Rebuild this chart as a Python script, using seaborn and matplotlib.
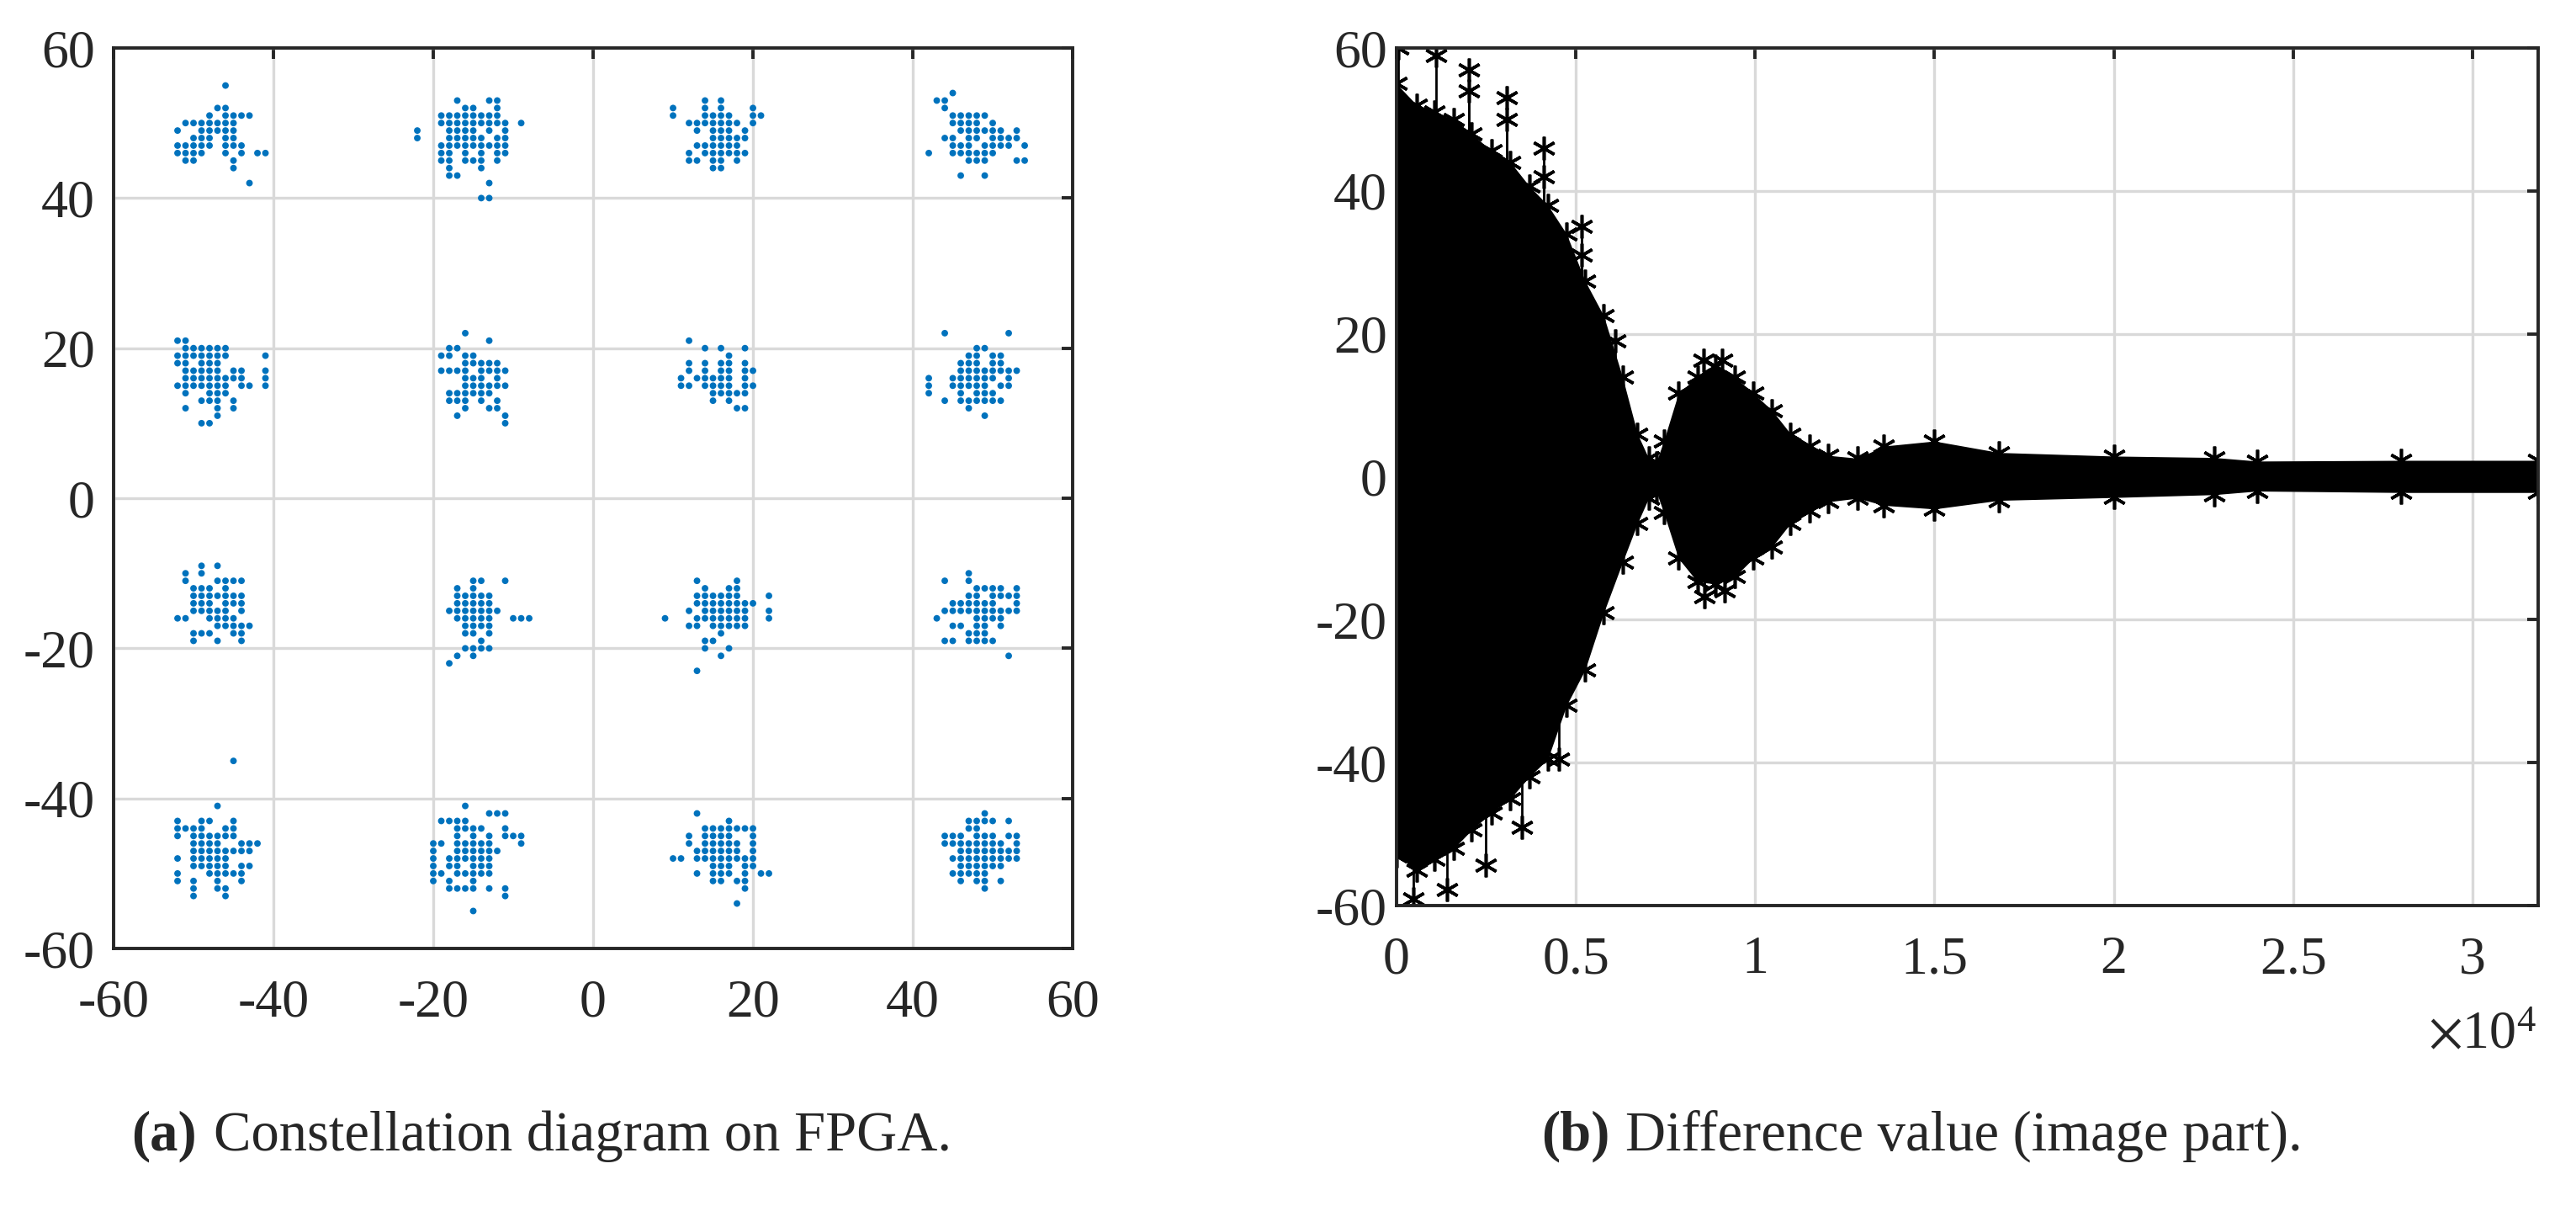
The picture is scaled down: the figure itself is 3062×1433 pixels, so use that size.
import numpy as np
import pandas as pd
import seaborn as sns
import matplotlib.pyplot as plt

# constellation points, one entry per row of dots: (y, [x values])
row_top = [
    (55, [-46]), (52, [-47, -46]), (51, [-48, -46, -45, -44, -43]),
    (50, [-51, -50, -49, -48, -47, -46, -45]), (49, [-52, -49, -48, -47, -46, -45]),
    (48, [-50, -49, -48, -46, -45]), (47, [-52, -51, -50, -49, -48, -46, -45, -44]),
    (46, [-52, -51, -50, -49, -46, -44, -42, -41]), (45, [-51, -50, -45]), (44, [-45]), (42, [-43]),
    (53, [-17, -13, -12]), (52, [-16, -15, -12]), (51, [-19, -18, -17, -16, -15, -14, -13, -12]),
    (50, [-19, -18, -17, -16, -15, -14, -13, -12, -11, -9]), (49, [-22, -18, -17, -16, -15, -13, -11]),
    (48, [-22, -18, -17, -16, -15, -14, -12, -11]), (47, [-19, -18, -17, -16, -15, -14, -13, -12, -11]),
    (46, [-19, -18, -16, -14, -12, -11]), (45, [-19, -18, -16, -15, -14, -12]), (44, [-18, -14]),
    (43, [-18, -17]), (42, [-13]), (40, [-14, -13]),
    (53, [14, 16]), (52, [10, 14, 16, 20]), (51, [10, 14, 15, 16, 17, 20, 21]),
    (50, [12, 13, 14, 15, 16, 17, 18, 20]), (49, [13, 15, 16, 17, 19]), (48, [15, 16, 17, 18, 19]),
    (47, [13, 14, 15, 16, 17, 18]), (46, [12, 14, 15, 16, 17, 18, 19]), (45, [12, 13, 15, 16, 18]),
    (44, [15, 16]),
    (54, [45]), (53, [43, 44]), (52, [44]), (51, [45, 46, 47, 48, 49]), (50, [45, 46, 47, 48, 50]),
    (49, [46, 47, 48, 49, 50, 51, 53]), (48, [44, 45, 47, 48, 50, 51, 52, 53]),
    (47, [45, 46, 47, 49, 50, 51, 52, 54]), (46, [42, 45, 46, 47, 48, 49, 50]),
    (45, [47, 48, 49, 53, 54]), (43, [46, 49]),
]
row_upper = [
    (21, [-52, -51]), (20, [-51, -50, -49, -48, -47, -46]), (19, [-52, -51, -50, -49, -48, -47, -46, -41]),
    (18, [-52, -51, -49, -48, -47]), (17, [-51, -50, -49, -48, -47, -45, -44, -41]),
    (16, [-51, -50, -49, -48, -47, -46, -45, -44, -41]),
    (15, [-52, -51, -50, -49, -48, -47, -46, -44, -43, -41]), (14, [-51, -48, -47, -46]),
    (13, [-49, -48, -47, -45]), (12, [-51, -47, -45]), (11, [-47]), (10, [-49, -48]),
    (22, [-16]), (21, [-13]), (20, [-18, -17]), (19, [-19, -18, -16, -15]), (18, [-16, -15, -14, -13, -12]),
    (17, [-19, -18, -17, -16, -14, -13, -12, -11]), (16, [-16, -15, -14, -12]),
    (15, [-16, -15, -14, -13, -12, -11]), (14, [-18, -17, -16, -15, -14, -13]),
    (13, [-18, -17, -16, -14, -12]), (12, [-16, -13, -12]), (11, [-17, -11]), (10, [-11]),
    (21, [12]), (20, [14, 16, 19]), (19, [17]), (18, [12, 14, 16, 17, 19]), (17, [12, 14, 16, 17, 19, 20]),
    (16, [11, 13, 14, 15, 16, 17, 19]), (15, [11, 12, 14, 15, 16, 17, 19, 20]), (14, [15, 16, 17, 18, 19]),
    (13, [15, 17]), (12, [18, 19]),
    (22, [44, 52]), (20, [48, 49]), (19, [47, 48, 50, 51]), (18, [46, 47, 48, 50, 51]),
    (17, [46, 47, 48, 49, 50, 51, 52, 53]), (16, [42, 45, 46, 47, 48, 49, 50, 52]),
    (15, [42, 45, 46, 47, 48, 49, 51, 52]), (14, [42, 46, 48, 49, 50]),
    (13, [44, 46, 47, 48, 49, 50, 51]), (12, [47]), (11, [49]),
]
row_lower = [
    (-9, [-49, -47]), (-10, [-51, -49]), (-11, [-51, -47, -46, -45, -44]), (-12, [-50, -49, -48, -46]),
    (-13, [-50, -49, -48, -47, -46, -45, -44]), (-14, [-50, -49, -48, -46, -45, -44]),
    (-15, [-50, -49, -48, -47, -46, -44]), (-16, [-52, -51, -48, -47, -46, -45]),
    (-17, [-47, -46, -45, -44, -43]), (-18, [-50, -49, -48, -45, -44]), (-19, [-50, -47, -44]),
    (-11, [-15, -14, -11]), (-12, [-17, -15]), (-13, [-17, -16, -15, -14, -13]),
    (-14, [-17, -16, -15, -14, -13]), (-15, [-18, -17, -16, -15, -14, -13, -12]),
    (-16, [-17, -16, -15, -14, -13, -10, -9, -8]), (-17, [-16, -15, -14, -13]), (-18, [-16, -15, -13]),
    (-19, [-14]), (-20, [-16, -15, -14, -13]), (-21, [-17, -15]), (-22, [-18]),
    (-11, [13, 18]), (-12, [14, 17, 18]), (-13, [13, 14, 15, 16, 17, 18, 22]),
    (-14, [13, 14, 15, 16, 17, 18, 19, 20]), (-15, [12, 14, 15, 16, 17, 18, 19, 22]),
    (-16, [9, 13, 14, 15, 16, 17, 18, 19, 22]), (-17, [12, 13, 15, 16, 17, 18, 19]), (-18, [16]),
    (-19, [14, 15]), (-20, [14, 17]), (-21, [16]), (-23, [13]),
    (-10, [47]), (-11, [44, 47]), (-12, [48, 49, 50, 51, 53]), (-13, [47, 48, 50, 51, 52, 53]),
    (-14, [45, 46, 47, 48, 49, 50, 53]), (-15, [44, 45, 46, 47, 48, 49, 50, 51, 52, 53]),
    (-16, [43, 48, 49, 50, 51]), (-17, [45, 46, 48, 49, 51]), (-18, [47, 48, 49]),
    (-19, [44, 45, 47, 48, 49, 50]), (-21, [52]),
]
row_bottom = [
    (-35, [-45]), (-41, [-47]), (-43, [-52, -49, -48, -45]), (-44, [-52, -51, -50, -49, -46, -45]),
    (-45, [-52, -50, -49, -48, -47, -46, -45]), (-46, [-50, -49, -48, -47, -44, -43, -42]),
    (-47, [-50, -49, -48, -47, -46, -45, -44, -43]), (-48, [-52, -50, -49, -48, -47, -46]),
    (-49, [-50, -49, -48, -47, -46, -44, -43]), (-50, [-52, -48, -47, -46, -45, -44]),
    (-51, [-52, -50, -47, -44]), (-52, [-50, -47, -46]), (-53, [-50, -46]),
    (-41, [-16]), (-42, [-13, -12, -11]), (-43, [-19, -18, -17, -16]), (-44, [-17, -16, -15, -14, -11]),
    (-45, [-17, -15, -13, -11, -10, -9]), (-46, [-20, -19, -17, -16, -15, -14, -13, -9]),
    (-47, [-20, -17, -16, -15, -14, -13, -12]), (-48, [-20, -18, -17, -16, -15, -14, -13]),
    (-49, [-20, -18, -17, -15, -14, -13]), (-50, [-20, -19, -17, -16, -15, -14, -13]),
    (-51, [-20, -18, -15]), (-52, [-18, -17, -16, -15, -13, -11]), (-53, [-11]), (-55, [-15]),
    (-42, [13]), (-43, [17]), (-44, [14, 15, 16, 17, 18, 19, 20]), (-45, [12, 14, 15, 16, 17, 20]),
    (-46, [12, 14, 15, 16, 17, 18, 20]), (-47, [13, 14, 15, 16, 17, 18, 20]),
    (-48, [10, 11, 13, 14, 15, 16, 17, 18, 19, 20]), (-49, [15, 16, 17, 19, 20]),
    (-50, [13, 15, 16, 17, 19, 21, 22]), (-51, [15, 16, 18, 19]), (-52, [19]), (-54, [18]),
    (-42, [49]), (-43, [47, 48, 49, 50, 52]), (-44, [47, 48]), (-45, [44, 45, 46, 48, 49, 50, 52, 53]),
    (-46, [44, 45, 46, 47, 48, 49, 50, 51, 53]), (-47, [46, 47, 48, 49, 50, 51, 52, 53]),
    (-48, [45, 46, 47, 48, 49, 50, 51, 52, 53]), (-49, [46, 47, 48, 49, 50, 51]),
    (-50, [45, 46, 47, 48, 49]), (-51, [46, 48, 49, 51]), (-52, [49]),
]

# panel (b): envelope of the difference signal, read at these sample indices
diff_x = [0, 570, 1050, 1600, 2100, 2650, 3180, 3700, 4220, 4740, 5260, 5780, 6300, 6720, 7030,
          7240, 7450, 7860, 8390, 8900, 9430, 9950, 10470, 10990, 11510, 12030, 12860, 13590,
          15000, 16800, 20000, 22800, 24000, 28000, 31830]
diff_upper = [55, 52, 51, 50, 48, 45.6, 44, 40.7, 38, 34, 27.4, 22.5, 14, 6, 2.6,
              2, 5, 11.7, 14, 15.5, 14, 11.7, 9.3, 6, 4.3, 3, 2.6, 4.3,
              5, 3.4, 2.9, 2.7, 2.2, 2.3, 2.3]
diff_lower = [-53, -55, -53.5, -52, -49.4, -47, -45, -42, -39.5, -32, -27, -19, -12, -6.5, -3,
              -2, -5, -11.4, -14.7, -15, -14, -11.4, -9.8, -6.5, -4.8, -3.5, -3, -4,
              -4.5, -3.3, -2.9, -2.5, -2.0, -2.2, -2.2]
# isolated spikes that stick out of the envelope
spike_x = [50, 1100, 2030, 2030, 3070, 3070, 4110, 4110, 5160, 5160, 6090, 8570, 9090,
           470, 1400, 2500, 3490, 4530, 8590, 9150]
spike_y = [60, 59, 57, 54, 53, 50, 46, 42, 35, 31, 19, 16.3, 16.3,
           -59, -57.7, -54.4, -49, -39.5, -16.8, -16]

ticks = [-60, -40, -20, 0, 20, 40, 60]
x_ticks_b = [0, 5000, 10000, 15000, 20000, 25000, 30000]
x_labels_b = ['0', '0.5', '1', '1.5', '2', '2.5', '3']

sns.set_style('white')
plt.rcParams['font.family'] = ['Liberation Serif', 'DejaVu Serif']
plt.rcParams['axes.unicode_minus'] = False
plt.rcParams['mathtext.fontset'] = 'stix'

pts = []
for row in (row_top, row_upper, row_lower, row_bottom):
    for yv, xs in row:
        for xv in xs:
            pts.append((xv, yv))
df = pd.DataFrame(pts, columns=['I', 'Q'])

fig = plt.figure(figsize=(15.31, 7.165), dpi=200)
ax1 = fig.add_axes([0.0441, 0.2135, 0.3723, 0.7467])
ax2 = fig.add_axes([0.5421, 0.2491, 0.4432, 0.7111])

spine_col = '#262626'
grid_col = '#d9d9d9'


def style(ax, ypad):
    ax.set_axisbelow(True)
    ax.grid(True, color=grid_col, lw=1.2)
    for s in ax.spines.values():
        s.set_color(spine_col)
        s.set_linewidth(1.4)
    ax.tick_params(direction='in', top=True, right=True, length=4.7, width=1.4,
                   color=spine_col, labelcolor=spine_col, labelsize=23)
    ax.tick_params(axis='y', pad=ypad)
    ax.tick_params(axis='x', pad=13)


# (a) constellation
sns.scatterplot(data=df, x='I', y='Q', ax=ax1, s=8, color='#0072BD', edgecolor='none', linewidth=0)
ax1.set_xlim(-60, 60)
ax1.set_ylim(-60, 60)
ax1.set_xticks(ticks)
ax1.set_yticks(ticks)
ax1.set_xlabel('')
ax1.set_ylabel('')
style(ax1, 8)

# (b) difference value
ax2.fill_between(diff_x, diff_lower, diff_upper, color='black', lw=0)
star = (6, 2, 0)
ax2.vlines(spike_x, 0, spike_y, color='black', lw=1.0)
for ys in (diff_upper, diff_lower, spike_y):
    xs = spike_x if ys is spike_y else diff_x
    ax2.plot(xs, ys, ls='none', marker=star, ms=10, mew=1.3, color='black')
ax2.set_xlim(0, 31830)
ax2.set_ylim(-60, 60)
ax2.set_xticks(x_ticks_b)
ax2.set_xticklabels(x_labels_b)
ax2.set_yticks(ticks)
style(ax2, 4)
fig.text(0.9847, 0.1417, r'$\times\mathregular{10^4}$', ha='right', va='center',
         fontsize=23, color=spine_col)

# captions
cap_y = 0.058
fig.text(0.0764, cap_y, '(a)', ha='right', va='center', fontsize=24, fontweight='bold')
fig.text(0.083, cap_y, 'Constellation diagram on FPGA.', ha='left', va='center', fontsize=24)
fig.text(0.625, cap_y, '(b)', ha='right', va='center', fontsize=24, fontweight='bold')
fig.text(0.631, cap_y, 'Difference value (image part).', ha='left', va='center', fontsize=24)

fig.savefig('out.png', dpi=200)
